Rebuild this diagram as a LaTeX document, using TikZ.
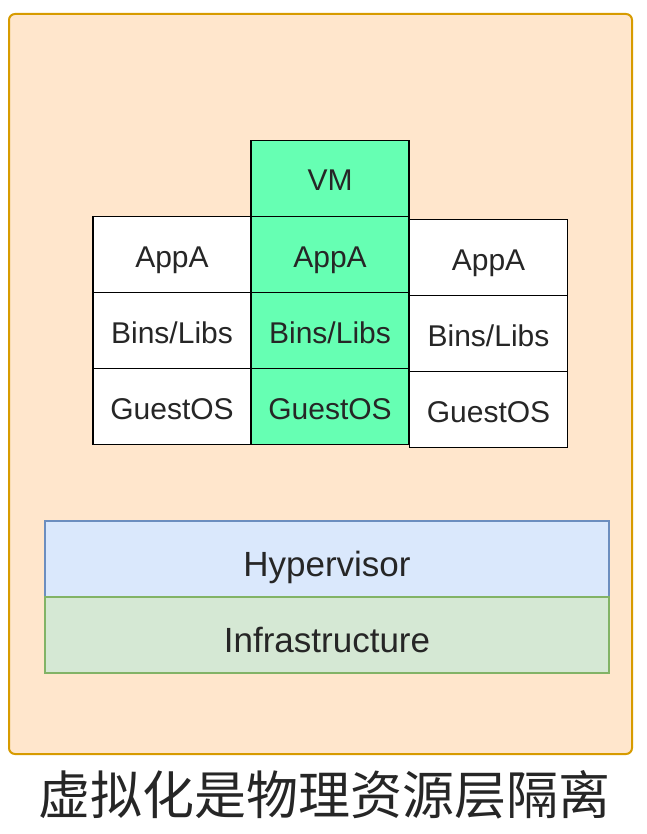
\documentclass[tikz,border=0pt]{standalone}
\usepackage{fontspec}
\setmainfont{Liberation Sans}
\newfontfamily\cjk{Noto Sans CJK SC}
\usetikzlibrary{positioning}

\definecolor{hostfill}{HTML}{FFE6CC}
\definecolor{hostline}{HTML}{D79B00}
\definecolor{vmgreen}{HTML}{66FFB3}
\definecolor{hypfill}{HTML}{DAE8FC}
\definecolor{hypline}{HTML}{6C8EBF}
\definecolor{infrafill}{HTML}{D5E8D4}
\definecolor{infraline}{HTML}{82B366}

\begin{document}
\begin{tikzpicture}[x=1pt, y=-1pt,
  cell/.style={draw, line width=1.8pt, fill=white, minimum width=158pt, minimum height=76pt, inner sep=0pt, outer sep=0pt, text=black!85, text height=25pt, text depth=0pt, font=\fontsize{30}{32}\selectfont},
  vmcell/.style={cell, fill=vmgreen},
  layer/.style={line width=1.5pt, minimum width=564pt, minimum height=76pt, inner sep=0pt, outer sep=0pt, text=black!85, text height=35pt, text depth=0pt, font=\fontsize{35}{38}\selectfont}]
  \useasboundingbox (0,0) rectangle (646,834);
  \node[draw=hostline, fill=hostfill, line width=2pt, rounded corners=6pt, minimum width=623pt, minimum height=740pt] (host) at (320.5,384) {};

  % the VM in the middle column
  \node[vmcell] (vm) at (330,178.5) {VM};
  \node[vmcell, below=0pt of vm] (appM) {AppA};
  \node[vmcell, below=0pt of appM] (libM) {Bins/Libs};
  \node[vmcell, below=0pt of libM] (osM) {GuestOS};

  % the other guests
  \node[cell, left=0pt of appM] (appL) {AppA};
  \node[cell, below=0pt of appL] (libL) {Bins/Libs};
  \node[cell, below=0pt of libL] (osL) {GuestOS};
  \node[cell] (appR) at (488.5,257.5) {AppA};
  \node[cell, below=0pt of appR] (libR) {Bins/Libs};
  \node[cell, below=0pt of libR] (osR) {GuestOS};

  \node[layer, draw=hypline, fill=hypfill] (hyp) at (327,559) {Hypervisor};
  \node[layer, draw=infraline, fill=infrafill, below=0pt of hyp] (infra) {Infrastructure};

  \node[font=\cjk\fontsize{52}{56}\selectfont, text=black!85] (caption) at (324,795) {虚拟化是物理资源层隔离};
\end{tikzpicture}
\end{document}
